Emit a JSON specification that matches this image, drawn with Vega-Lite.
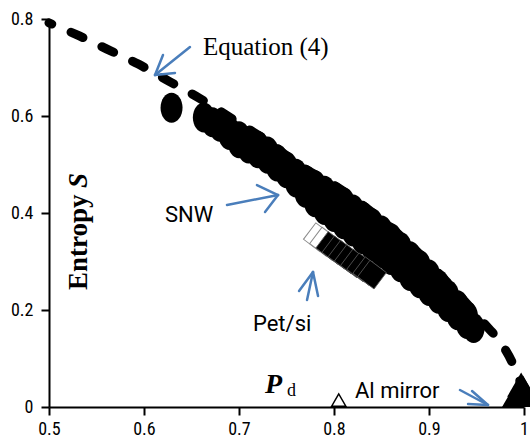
{
  "$schema": "https://vega.github.io/schema/vega-lite/v6.json",
  "width": 475,
  "height": 388,
  "autosize": {"type": "none"},
  "padding": {"left": 49, "top": 19, "right": 6, "bottom": 36},
  "background": "white",
  "config": {
    "view": {"stroke": null},
    "axis": {
      "domainColor": "black",
      "domainWidth": 2,
      "tickColor": "black",
      "tickWidth": 2,
      "labelColor": "black",
      "labelFont": "Liberation Sans Narrow, Roboto Condensed, Roboto, sans-serif",
      "labelFontSize": 18,
      "grid": false
    }
  },
  "datasets": {
    "curve": [
      {"x": 0.5, "y": 0.792}, {"x": 0.532, "y": 0.765}, {"x": 0.561, "y": 0.738},
      {"x": 0.594, "y": 0.707}, {"x": 0.626, "y": 0.672}, {"x": 0.659, "y": 0.636},
      {"x": 0.7, "y": 0.585}, {"x": 0.727, "y": 0.552}, {"x": 0.764, "y": 0.498},
      {"x": 0.806, "y": 0.45}, {"x": 0.841, "y": 0.4}, {"x": 0.877, "y": 0.34},
      {"x": 0.912, "y": 0.272}, {"x": 0.943, "y": 0.206}, {"x": 0.96, "y": 0.168},
      {"x": 0.975, "y": 0.134}, {"x": 0.988, "y": 0.09}, {"x": 0.996, "y": 0.05},
      {"x": 1.0, "y": 0.0}
    ],
    "snw": [
      {"x": 0.629, "y": 0.617},
      {"x": 0.663, "y": 0.597}, {"x": 0.672, "y": 0.587}, {"x": 0.68, "y": 0.578},
      {"x": 0.69, "y": 0.567}, {"x": 0.69, "y": 0.561},
      {"x": 0.70, "y": 0.558}, {"x": 0.70, "y": 0.544},
      {"x": 0.71, "y": 0.548}, {"x": 0.71, "y": 0.533},
      {"x": 0.72, "y": 0.538}, {"x": 0.72, "y": 0.523},
      {"x": 0.73, "y": 0.527}, {"x": 0.73, "y": 0.512},
      {"x": 0.74, "y": 0.511}, {"x": 0.74, "y": 0.496},
      {"x": 0.75, "y": 0.496}, {"x": 0.75, "y": 0.482},
      {"x": 0.76, "y": 0.481}, {"x": 0.76, "y": 0.463},
      {"x": 0.77, "y": 0.468}, {"x": 0.77, "y": 0.442},
      {"x": 0.78, "y": 0.457}, {"x": 0.78, "y": 0.422},
      {"x": 0.79, "y": 0.446}, {"x": 0.79, "y": 0.406},
      {"x": 0.80, "y": 0.434}, {"x": 0.80, "y": 0.392},
      {"x": 0.81, "y": 0.422}, {"x": 0.81, "y": 0.377},
      {"x": 0.82, "y": 0.407}, {"x": 0.82, "y": 0.362},
      {"x": 0.83, "y": 0.393}, {"x": 0.83, "y": 0.346},
      {"x": 0.84, "y": 0.379}, {"x": 0.84, "y": 0.331},
      {"x": 0.85, "y": 0.364}, {"x": 0.85, "y": 0.317},
      {"x": 0.86, "y": 0.348}, {"x": 0.86, "y": 0.303},
      {"x": 0.87, "y": 0.330}, {"x": 0.87, "y": 0.288},
      {"x": 0.88, "y": 0.311}, {"x": 0.88, "y": 0.270},
      {"x": 0.89, "y": 0.293}, {"x": 0.89, "y": 0.255},
      {"x": 0.90, "y": 0.273}, {"x": 0.90, "y": 0.239},
      {"x": 0.91, "y": 0.252}, {"x": 0.91, "y": 0.223},
      {"x": 0.92, "y": 0.231}, {"x": 0.92, "y": 0.206},
      {"x": 0.93, "y": 0.210}, {"x": 0.93, "y": 0.189},
      {"x": 0.94, "y": 0.187}, {"x": 0.94, "y": 0.171},
      {"x": 0.947, "y": 0.163}
    ],
    "petsi_open": [
      {"x": 0.783, "y": 0.350}, {"x": 0.7895, "y": 0.341}
    ],
    "petsi": [
      {"x": 0.796, "y": 0.332}, {"x": 0.8025, "y": 0.323}, {"x": 0.809, "y": 0.314},
      {"x": 0.8155, "y": 0.305}, {"x": 0.822, "y": 0.296}, {"x": 0.8285, "y": 0.288},
      {"x": 0.835, "y": 0.280}, {"x": 0.840, "y": 0.273}
    ],
    "al": [
      {"x": 0.9916, "y": 0.025}, {"x": 1.0, "y": 0.025}, {"x": 0.996, "y": 0.032},
      {"x": 0.999, "y": 0.04}, {"x": 0.997, "y": 0.046}
    ],
    "al_small": [
      {"x": 0.805, "y": 0.0144}
    ],
    "arrows": [
      {"x": 0.6484, "y": 0.7423, "x2": 0.6116, "y2": 0.6845},
      {"x": 0.6116, "y": 0.6845, "x2": 0.620, "y2": 0.7258},
      {"x": 0.6116, "y": 0.6845, "x2": 0.6326, "y2": 0.6887},
      {"x": 0.6874, "y": 0.4165, "x2": 0.7411, "y2": 0.4371},
      {"x": 0.7411, "y": 0.4371, "x2": 0.7189, "y2": 0.4577},
      {"x": 0.7411, "y": 0.4371, "x2": 0.7274, "y2": 0.4021},
      {"x": 0.7716, "y": 0.2206, "x2": 0.7779, "y2": 0.2784},
      {"x": 0.7779, "y": 0.2784, "x2": 0.7632, "y2": 0.2392},
      {"x": 0.7779, "y": 0.2784, "x2": 0.7832, "y2": 0.2289},
      {"x": 0.9326, "y": 0.0351, "x2": 0.9621, "y2": 0.0041},
      {"x": 0.9621, "y": 0.0041, "x2": 0.9453, "y2": 0.033},
      {"x": 0.9621, "y": 0.0041, "x2": 0.9411, "y2": 0.0062}
    ],
    "label_eq": [{"x": 0.6621, "y": 0.7258, "t": "Equation (4)"}],
    "label_sans": [
      {"x": 0.6221, "y": 0.3814, "t": "SNW"},
      {"x": 0.7147, "y": 0.1567, "t": "Pet/si"},
      {"x": 0.8221, "y": 0.0186, "t": "Al mirror"}
    ],
    "label_p": [{"x": 0.7274, "y": 0.0289, "t": "P"}],
    "label_d": [{"x": 0.7505, "y": 0.0227, "t": "d"}],
    "label_entropy": [{"x": 0.5395, "y": 0.2412, "t": "Entropy"}],
    "label_s": [{"x": 0.5395, "y": 0.4515, "t": "S"}]
  },
  "encoding": {
    "x": {
      "field": "x", "type": "quantitative",
      "scale": {"domain": [0.5, 1], "nice": false, "zero": false},
      "axis": {"values": [0.5, 0.6, 0.7, 0.8, 0.9, 1], "format": "~g", "title": null, "tickSize": 8, "labelPadding": 5, "labelFlush": false}
    },
    "y": {
      "field": "y", "type": "quantitative",
      "scale": {"domain": [0, 0.8], "nice": false, "zero": false},
      "axis": {"values": [0, 0.2, 0.4, 0.6, 0.8], "format": "~g", "title": null, "tickSize": 8, "labelPadding": 8}
    }
  },
  "layer": [
    {
      "data": {"name": "curve"},
      "mark": {"type": "line", "color": "black", "strokeWidth": 9, "strokeDash": [13, 21], "strokeDashOffset": 10, "strokeCap": "round", "interpolate": "monotone"}
    },
    {
      "data": {"name": "snw"},
      "mark": {"type": "point", "shape": "M0,-1A0.733,1,0,1,1,0,1A0.733,1,0,1,1,0,-1Z", "size": 900, "filled": true, "color": "black", "opacity": 1}
    },
    {
      "data": {"name": "petsi_open"},
      "mark": {"type": "point", "shape": "square", "size": 420, "angle": 37, "fill": "white", "stroke": "#8a8a8a", "strokeWidth": 1, "opacity": 1}
    },
    {
      "data": {"name": "petsi"},
      "mark": {"type": "point", "shape": "square", "size": 420, "angle": 37, "fill": "black", "stroke": "#555555", "strokeWidth": 0.8, "opacity": 1}
    },
    {
      "data": {"name": "al"},
      "mark": {"type": "point", "shape": "triangle-up", "size": 784, "filled": true, "color": "black", "opacity": 1}
    },
    {
      "data": {"name": "al_small"},
      "mark": {"type": "point", "shape": "triangle-up", "size": 200, "filled": false, "color": "black", "strokeWidth": 1.5, "opacity": 1}
    },
    {
      "data": {"name": "arrows"},
      "mark": {"type": "rule", "color": "#4a7ebb", "strokeWidth": 2.5, "strokeCap": "round"},
      "encoding": {"x2": {"field": "x2"}, "y2": {"field": "y2"}}
    },
    {
      "data": {"name": "label_eq"},
      "mark": {"type": "text", "align": "left", "baseline": "alphabetic", "font": "Liberation Serif", "fontSize": 25, "color": "black"},
      "encoding": {"text": {"field": "t"}}
    },
    {
      "data": {"name": "label_sans"},
      "mark": {"type": "text", "align": "left", "baseline": "alphabetic", "font": "Roboto", "fontSize": 22, "color": "black"},
      "encoding": {"text": {"field": "t"}}
    },
    {
      "data": {"name": "label_p"},
      "mark": {"type": "text", "align": "left", "baseline": "alphabetic", "font": "Liberation Serif", "fontSize": 28, "fontWeight": "bold", "fontStyle": "italic", "color": "black"},
      "encoding": {"text": {"field": "t"}}
    },
    {
      "data": {"name": "label_d"},
      "mark": {"type": "text", "align": "left", "baseline": "alphabetic", "font": "Liberation Serif", "fontSize": 18, "color": "black"},
      "encoding": {"text": {"field": "t"}}
    },
    {
      "data": {"name": "label_entropy"},
      "mark": {"type": "text", "align": "left", "baseline": "alphabetic", "angle": 270, "font": "Liberation Serif", "fontSize": 27, "fontWeight": "bold", "color": "black"},
      "encoding": {"text": {"field": "t"}}
    },
    {
      "data": {"name": "label_s"},
      "mark": {"type": "text", "align": "left", "baseline": "alphabetic", "angle": 270, "font": "Liberation Serif", "fontSize": 27, "fontWeight": "bold", "fontStyle": "italic", "color": "black"},
      "encoding": {"text": {"field": "t"}}
    }
  ]
}
